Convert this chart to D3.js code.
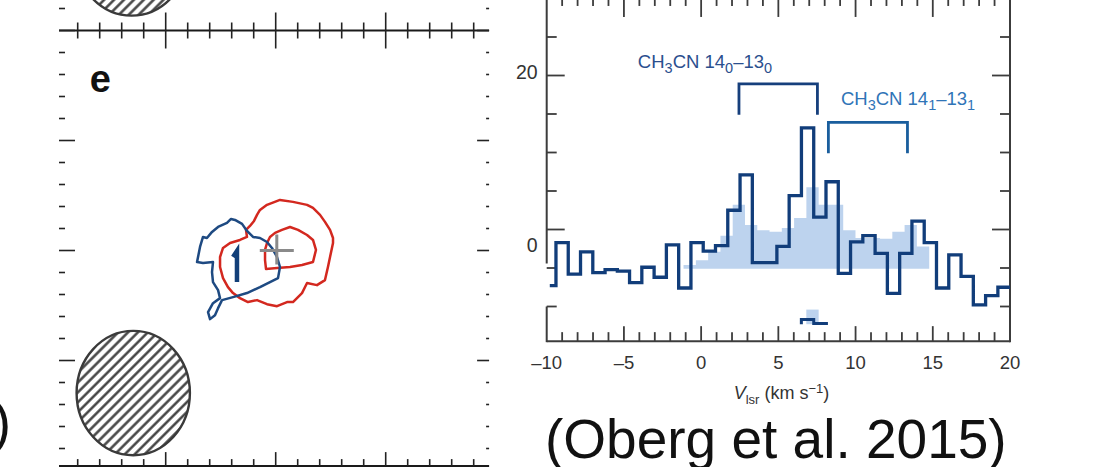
<!DOCTYPE html>
<html>
<head>
<meta charset="utf-8">
<script src="https://cdn.jsdelivr.net/npm/d3@7"></script>
<style>
  html, body { margin: 0; padding: 0; background: #fff; }
  svg { display: block; }
  text { font-family: "Liberation Sans", Arial, Helvetica, sans-serif; }
</style>
</head>
<body>
<svg id="fig" width="1100" height="467"></svg>
<script>
// ---------------- spectrum (right) ----------------
// channel centre velocities (km/s) and observed flux
const channelVel = [-9.80, -9.00, -8.21, -7.41, -6.62, -5.82, -5.03, -4.24, -3.44, -2.65,
                    -1.85, -1.06, -0.26, 0.53, 1.33, 2.12, 2.92, 3.71, 4.51, 5.30,
                    6.10, 6.89, 7.69, 8.48, 9.28, 10.07, 10.87, 11.66, 12.46, 13.25,
                    14.05, 14.84, 15.64, 16.43, 17.23, 18.02, 18.82, 19.61];
const channelFlux = [-7.3, -1.7, -5.8, -2.9, -5.6, -5.2, -5.4, -6.9, -4.9, -6.2,
                     -2.0, -7.6, -1.7, -2.8, -2.1, 2.5, 7.1, -4.3, -4.3, -2.2,
                     4.4, 13.2, 1.6, 6.2, -5.7, -1.6, -0.8, -3.1, -8.3, -3.1,
                     1.1, -1.7, -7.6, -3.3, -6.1, -9.8, -8.6, -7.5];
// model spectrum (shaded)
const modelVel = [-0.74, 0.06, 0.85, 1.65, 2.44, 3.24, 4.03, 4.83, 5.62, 6.42,
                  7.21, 8.01, 8.80, 9.60, 10.39, 11.19, 11.98, 12.78, 13.57, 14.37];
const modelFlux = [-4.6, -4.0, -2.9, -0.8, 3.2, 0.6, -0.1, -0.3, 0.2, 1.5,
                   5.5, 3.2, 3.2, -0.1, -1.1, -1.1, -1.2, -0.3, 0.6, -2.2];
const modelBase = -5.1;
// residual strip below the spectrum
const residualVel = [6.89, 7.69];
const residualFlux = [-11.7, -12.2];
const residualBase = -12.3;
const residualModelVel = [7.21];
const residualModelFlux = [-10.4];
// hyperfine brackets
const bracketFrom = [2.45, 8.24];
const bracketTo = [7.53, 13.36];
const bracketTop = [18.9, 13.9];
const bracketFoot = [14.9, 9.9];
const bracketLabel = [
  [["CH", 0], ["3", 1], ["CN 14", 0], ["0", 1], ["\u201313", 0], ["0", 1]],
  [["CH", 0], ["3", 1], ["CN 14", 0], ["1", 1], ["\u201313", 0], ["1", 1]]
];
const xTickLabels = [-10, -5, 0, 5, 10, 15, 20];
const yTickLabels = [0, 20];

// ---------------- map panel (left) ----------------
const blueContour = [[-0.37,0.278],[-0.306,0.242],[-0.261,0.178],[-0.206,0.123],[-0.143,0.114],
  [-0.079,0.077],[-0.034,0.023],[0.012,-0.059],[0.039,-0.15],[0.021,-0.251],[-0.052,-0.287],
  [-0.143,-0.333],[-0.261,-0.387],[-0.388,-0.424],[-0.488,-0.451],[-0.524,-0.524],[-0.552,-0.588],
  [-0.597,-0.624],[-0.615,-0.561],[-0.57,-0.479],[-0.506,-0.433],[-0.524,-0.36],[-0.57,-0.287],
  [-0.579,-0.196],[-0.57,-0.105],[-0.661,-0.114],[-0.715,-0.105],[-0.688,0.032],[-0.661,0.123],
  [-0.625,0.114],[-0.579,0.169],[-0.524,0.214],[-0.443,0.251],[-0.406,0.287]];
const blueCore = [[-0.388,-0.059],[-0.352,-0.005],[-0.352,-0.287]];
const redOuter = [[0.039,0.46],[0.157,0.442],[0.285,0.415],[0.339,0.387],[0.403,0.324],[0.448,0.26],
  [0.494,0.187],[0.521,0.114],[0.521,0.068],[0.494,-0.059],[0.475,-0.15],[0.448,-0.269],[0.375,-0.315],
  [0.285,-0.296],[0.239,-0.387],[0.157,-0.469],[0.103,-0.469],[0.012,-0.506],[-0.079,-0.488],
  [-0.17,-0.451],[-0.252,-0.469],[-0.325,-0.433],[-0.388,-0.387],[-0.434,-0.333],[-0.479,-0.251],
  [-0.506,-0.15],[-0.506,-0.059],[-0.479,0.023],[-0.415,0.068],[-0.325,0.096],[-0.261,0.123],
  [-0.27,0.187],[-0.234,0.223],[-0.197,0.269],[-0.17,0.324],[-0.143,0.369],[-0.079,0.415]];
const redInner = [[-0.006,0.16],[0.057,0.187],[0.13,0.214],[0.203,0.187],[0.285,0.141],[0.339,0.096],
  [0.366,0.005],[0.339,-0.105],[0.239,-0.132],[0.13,-0.15],[0.012,-0.16],[-0.088,-0.169],
  [-0.097,-0.087],[-0.097,0.005],[-0.079,0.068],[-0.052,0.123]];
const sourcePos = [0.01, 0.0];
const beamCenters = [[-1.295, -1.296], [-1.31, 2.70]];
const beamAxes = [0.515, 0.565];

// ---------------- drawing ----------------
const svg = d3.select("#fig");
svg.append("rect").attr("width", 1100).attr("height", 467).attr("fill", "#fff");

const defs = svg.append("defs");
const hatch = defs.append("pattern").attr("id", "hatch")
  .attr("patternUnits", "userSpaceOnUse").attr("width", 7).attr("height", 7)
  .attr("patternTransform", "rotate(45)");
hatch.append("rect").attr("width", 7).attr("height", 7).attr("fill", "#fff");
hatch.append("line").attr("x1", 3.5).attr("y1", -1).attr("x2", 3.5).attr("y2", 8)
  .attr("stroke", "#3a3a3a").attr("stroke-width", 2.4);

// ===== map panel =====
const mapX = d3.scaleLinear().domain([-1, 1]).range([165.7, 385.7]);
const mapY = d3.scaleLinear().domain([-1, 1]).range([360.5, 140.5]);
const mapXlim = [-1.97, 1.94];
const mapYlim = [-1.96, 2.0];
const mx0 = mapX(mapXlim[0]), mx1 = mapX(mapXlim[1]);
const myTop = mapY(mapYlim[1]), myBot = mapY(mapYlim[0]);
const mapG = svg.append("g");
const isMajor = v => Math.abs(v - Math.round(v)) < 1e-6;

// beams
beamCenters.forEach(c => {
  mapG.append("ellipse")
    .attr("cx", mapX(c[0])).attr("cy", mapY(c[1]))
    .attr("rx", mapX(beamAxes[0]) - mapX(0)).attr("ry", mapY(0) - mapY(beamAxes[1]))
    .attr("fill", "url(#hatch)").attr("stroke", "#3a3a3a").attr("stroke-width", 2.4);
});

// horizontal axes
const mapXticks = d3.range(-9, 10).map(i => i * 0.2);
mapG.append("line").attr("x1", mx0).attr("x2", mx1).attr("y1", myTop).attr("y2", myTop)
  .attr("stroke", "#1a1a1a").attr("stroke-width", 2.2);
mapG.append("line").attr("x1", mx0).attr("x2", mx1).attr("y1", myBot).attr("y2", myBot)
  .attr("stroke", "#1a1a1a").attr("stroke-width", 2.2);
mapXticks.forEach(v => {
  const x = mapX(v), big = isMajor(v);
  mapG.append("line").attr("x1", x).attr("x2", x)
    .attr("y1", myTop - (big ? 18 : 8)).attr("y2", myTop + (big ? 18 : 8))
    .attr("stroke", "#222").attr("stroke-width", 1.6);
  mapG.append("line").attr("x1", x).attr("x2", x)
    .attr("y1", myBot - (big ? 14 : 7)).attr("y2", myBot)
    .attr("stroke", "#222").attr("stroke-width", 1.6);
});
// vertical tick rows
const mapYticks = d3.range(-9, 12).map(i => i * 0.2);
mapYticks.forEach(v => {
  const y = mapY(v), big = isMajor(v);
  mapG.append("line").attr("x1", mx0).attr("x2", mx0 + (big ? 16 : 6))
    .attr("y1", y).attr("y2", y).attr("stroke", "#222").attr("stroke-width", 1.6);
  mapG.append("line").attr("x1", mx1 - (big ? 12 : 3)).attr("x2", mx1)
    .attr("y1", y).attr("y2", y).attr("stroke", "#222").attr("stroke-width", 1.6);
});

// panel letter
mapG.append("text").attr("x", mapX(-1.69)).attr("y", mapY(1.437))
  .attr("font-size", 38).attr("font-weight", "bold").attr("fill", "#111").text("e");

// contours
const cline = d3.line().x(d => mapX(d[0])).y(d => mapY(d[1])).curve(d3.curveLinearClosed);
mapG.append("path").attr("d", cline(redOuter)).attr("fill", "none")
  .attr("stroke", "#d3281f").attr("stroke-width", 2.5).attr("stroke-linejoin", "round");
mapG.append("path").attr("d", cline(redInner)).attr("fill", "none")
  .attr("stroke", "#d3281f").attr("stroke-width", 2.5).attr("stroke-linejoin", "round");
mapG.append("path").attr("d", cline(blueContour)).attr("fill", "none")
  .attr("stroke", "#1e4a82").attr("stroke-width", 2.5).attr("stroke-linejoin", "round");
mapG.append("path").attr("d", d3.line().x(d => mapX(d[0])).y(d => mapY(d[1]))(blueCore))
  .attr("fill", "none").attr("stroke", "#123f78").attr("stroke-width", 4.5);
// source position marker
const sx = mapX(sourcePos[0]), sy = mapY(sourcePos[1]);
mapG.append("path").attr("d", `M${sx - 17},${sy}H${sx + 17}M${sx},${sy - 16}V${sy + 14}`)
  .attr("stroke", "#8a8a8a").attr("stroke-width", 3).attr("fill", "none");

// ===== spectrum panel =====
const xS = d3.scaleLinear().domain([-10, 20]).range([546.7, 1010]);
const yS = d3.scaleLinear().domain([0, 20]).range([229.5, 75.5]);
const yLim = [-14.5, 30.2];
const px0 = xS(-10), px1 = xS(20), pyB = yS(yLim[0]), pyT = yS(yLim[1]);
const sp = svg.append("g");

// step edges from channel centres
function stepPoints(vel, flux, start, end) {
  const pts = [];
  for (let i = 0; i < vel.length; i++) {
    const left = i === 0 ? start : (vel[i - 1] + vel[i]) / 2;
    pts.push([left, flux[i]]);
  }
  pts.push([end, flux[flux.length - 1]]);
  return pts;
}
const chanW = channelVel[1] - channelVel[0];
const modelW = modelVel[1] - modelVel[0];

// model shading
const modelPts = stepPoints(modelVel, modelFlux, modelVel[0] - modelW / 2,
  modelVel[modelVel.length - 1] + modelW / 2);
sp.append("path")
  .attr("d", d3.area().x(d => xS(d[0])).y0(yS(modelBase)).y1(d => yS(d[1]))
    .curve(d3.curveStepAfter)(modelPts))
  .attr("fill", "#bdd3ee");
const resModelPts = stepPoints(residualModelVel, residualModelFlux,
  residualModelVel[0] - modelW / 2, residualModelVel[0] + modelW / 2);
sp.append("path")
  .attr("d", d3.area().x(d => xS(d[0])).y0(yS(residualBase)).y1(d => yS(d[1]))
    .curve(d3.curveStepAfter)(resModelPts))
  .attr("fill", "#bdd3ee");

// axes frame
const axisColor = "#3c3c3c";
sp.append("line").attr("x1", px0).attr("x2", px1).attr("y1", pyB).attr("y2", pyB)
  .attr("stroke", axisColor).attr("stroke-width", 2);
sp.append("line").attr("x1", px0).attr("x2", px1).attr("y1", pyT).attr("y2", pyT)
  .attr("stroke", axisColor).attr("stroke-width", 2);
sp.append("line").attr("x1", px1).attr("x2", px1).attr("y1", pyT).attr("y2", pyB + 1)
  .attr("stroke", axisColor).attr("stroke-width", 2);
[[yLim[1], -4.3], [-10, yLim[0]]].forEach(seg => {
  sp.append("line").attr("x1", px0).attr("x2", px0)
    .attr("y1", yS(seg[0])).attr("y2", yS(seg[1]) + 1)
    .attr("stroke", axisColor).attr("stroke-width", 2);
});
// x ticks (top and bottom)
d3.range(-10, 21).forEach(v => {
  const x = xS(v), big = v % 5 === 0;
  if (v > -10 && v < 20) {
    sp.append("line").attr("x1", x).attr("x2", x).attr("y1", pyB).attr("y2", pyB - (big ? 15 : 9))
      .attr("stroke", axisColor).attr("stroke-width", 1.8);
    sp.append("line").attr("x1", x).attr("x2", x).attr("y1", pyT).attr("y2", pyT + (big ? 20 : 9))
      .attr("stroke", axisColor).attr("stroke-width", 1.8);
  }
});
// y ticks (left and right)
d3.range(-10, 30, 5).forEach(v => {
  const y = yS(v), big = v % 20 === 0;
  sp.append("line").attr("x1", px0).attr("x2", px0 + (big ? 18 : 10)).attr("y1", y).attr("y2", y)
    .attr("stroke", axisColor).attr("stroke-width", 1.8);
  sp.append("line").attr("x1", px1).attr("x2", px1 - (big ? 18 : 10)).attr("y1", y).attr("y2", y)
    .attr("stroke", axisColor).attr("stroke-width", 1.8);
});
// tick labels
sp.selectAll("text.xt").data(xTickLabels).enter().append("text")
  .attr("x", d => xS(d)).attr("y", pyB + 28).attr("text-anchor", "middle")
  .attr("font-size", 18.5).attr("fill", "#333")
  .text(d => d < 0 ? "\u2013" + Math.abs(d) : String(d));
const yLabelNudge = { 0: 22, 20: 3.5 };
sp.selectAll("text.yt").data(yTickLabels).enter().append("text")
  .attr("x", px0 - 9).attr("y", d => yS(d) + yLabelNudge[d])
  .attr("text-anchor", "end").attr("font-size", 19.5).attr("fill", "#333")
  .text(d => String(d));
// axis title
const title = sp.append("text").attr("x", xS(5.2)).attr("y", pyB + 58)
  .attr("text-anchor", "middle").attr("font-size", 18).attr("fill", "#333");
title.append("tspan").attr("font-style", "italic").text("V");
title.append("tspan").attr("font-size", 13).attr("dy", 5).text("lsr");
title.append("tspan").attr("dy", -5).text(" (km s");
title.append("tspan").attr("font-size", 13).attr("dy", -6).text("\u22121");
title.append("tspan").attr("dy", 6).text(")");

// observed spectrum
const specPts = stepPoints(channelVel, channelFlux, channelVel[0], 20);
sp.append("path")
  .attr("d", d3.line().x(d => xS(d[0])).y(d => yS(d[1])).curve(d3.curveStepAfter)(specPts))
  .attr("fill", "none").attr("stroke", "#113d7a").attr("stroke-width", 3.3)
  .attr("stroke-linejoin", "miter");
// residual strip
const resPts = [[residualVel[0] - chanW / 2, residualBase]]
  .concat(stepPoints(residualVel, residualFlux, residualVel[0] - chanW / 2,
    residualVel[residualVel.length - 1] + chanW * 0.65));
sp.append("path")
  .attr("d", d3.line().x(d => xS(d[0])).y(d => yS(d[1])).curve(d3.curveStepAfter)(resPts))
  .attr("fill", "none").attr("stroke", "#113d7a").attr("stroke-width", 3);

// hyperfine brackets and labels
const bracketColor = ["#163f7c", "#1a5e9d"];
const labelColor = ["#2b4f8e", "#2f74b7"];
const labelAnchor = [[-4.1, 20.95], [9.05, 16.15]];
bracketFrom.forEach((f, i) => {
  sp.append("path")
    .attr("d", `M${xS(f)},${yS(bracketFoot[i])}V${yS(bracketTop[i])}H${xS(bracketTo[i])}V${yS(bracketFoot[i])}`)
    .attr("fill", "none").attr("stroke", bracketColor[i]).attr("stroke-width", 2.8);
  const t = sp.append("text").attr("x", xS(labelAnchor[i][0])).attr("y", yS(labelAnchor[i][1]))
    .attr("font-size", 18.5).attr("fill", labelColor[i]);
  let shifted = false;
  bracketLabel[i].forEach(([s, sub]) => {
    const ts = t.append("tspan").text(s);
    if (sub && !shifted) { ts.attr("dy", 5).attr("font-size", 14.5); shifted = true; }
    else if (!sub && shifted) { ts.attr("dy", -5); shifted = false; }
    else if (sub) ts.attr("font-size", 14.5);
  });
});

// citation text
svg.append("text").attr("x", 545).attr("y", 458).attr("font-size", 55).attr("fill", "#111")
  .text("(Oberg et al. 2015)");
svg.append("text").attr("x", 11).attr("y", 441).attr("text-anchor", "end")
  .attr("font-size", 55).attr("fill", "#111").text(")");
</script>
</body>
</html>
